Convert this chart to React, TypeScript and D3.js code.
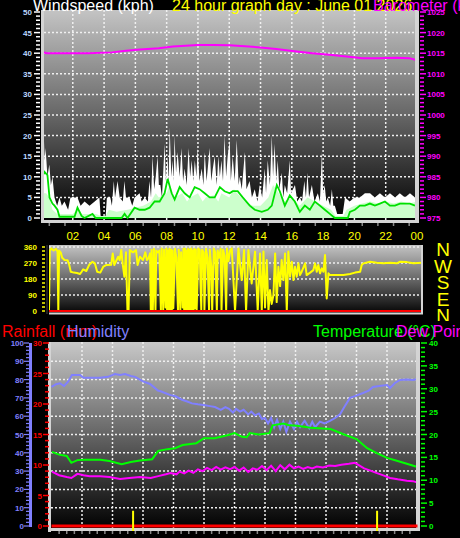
import React from 'react';
import * as d3 from 'd3';

type P = [number, number];

const hourLabels = ['02', '04', '06', '08', '10', '12', '14', '16', '18', '20', '22', '00'];
const windTicks = [0, 5, 10, 15, 20, 25, 30, 35, 40, 45, 50];
const baroTicks = [975, 980, 985, 990, 995, 1000, 1005, 1010, 1015, 1020, 1025];
const dirTicks = [0, 90, 180, 270, 360];
const compass = ['N', 'W', 'S', 'E', 'N'];
const humTicks = [0, 10, 20, 30, 40, 50, 60, 70, 80, 90, 100];
const rainTicks = [0, 5, 10, 15, 20, 25, 30];
const tempTicks = [0, 5, 10, 15, 20, 25, 30, 35, 40];

const gust: P[] = [
  [0, 22], [0.13, 22], [0.2, 14], [0.26, 17], [0.38, 10], [0.5, 13], [0.6, 8], [0.7, 10], [0.83, 5], [1.0, 3], [1.15, 5], [1.3, 3], [1.47, 4], [1.7, 2], [1.85, 5], [2.3, 5], [2.5, 3], [2.75, 4], [3.07, 3], [3.4, 4], [3.7, 5], [3.78, 0.5], [4.1, 0.5], [4.18, 5], [4.4, 5], [4.5, 3], [4.62, 9], [4.7, 5], [4.86, 9], [5.0, 5], [5.2, 4], [5.3, 9], [5.4, 5], [5.63, 5], [5.8, 3], [5.95, 5], [6.27, 6], [6.4, 4], [6.6, 5], [6.8, 4], [6.9, 9], [7.0, 5], [7.1, 15], [7.2, 7], [7.3, 10], [7.42, 15], [7.5, 8], [7.6, 8], [7.7, 5], [7.87, 18], [7.95, 9], [8.06, 15], [8.12, 8], [8.19, 22], [8.3, 10], [8.38, 14], [8.45, 9], [8.5, 20], [8.6, 11], [8.7, 16], [8.83, 10], [8.95, 17], [9.05, 9], [9.15, 12], [9.28, 8], [9.4, 17], [9.5, 10], [9.6, 14], [9.7, 9], [9.8, 14], [9.9, 10], [9.98, 17], [10.1, 9], [10.24, 12], [10.35, 8], [10.43, 16], [10.55, 9], [10.65, 13], [10.75, 17], [10.85, 9], [10.95, 12], [11.07, 15], [11.2, 8], [11.3, 15], [11.4, 10], [11.5, 14], [11.6, 9], [11.7, 20], [11.8, 10], [11.9, 15], [12.03, 19], [12.1, 9], [12.22, 15], [12.35, 9], [12.48, 19], [12.6, 8], [12.67, 10], [12.8, 7], [13.0, 16], [13.1, 7], [13.3, 9], [13.45, 5], [13.63, 7], [13.8, 4], [13.95, 8], [14.1, 5], [14.27, 12], [14.35, 6], [14.46, 14], [14.6, 8], [14.72, 20], [14.8, 10], [14.9, 18], [15.0, 9], [15.1, 14], [15.2, 7], [15.36, 11], [15.45, 5], [15.55, 8], [15.7, 6], [15.87, 14], [15.95, 6], [16.2, 8], [16.35, 4], [16.5, 5], [16.65, 4], [16.8, 9], [16.9, 5], [17.0, 11], [17.1, 5], [17.28, 8], [17.45, 4], [17.66, 6], [17.8, 4], [17.92, 16], [18.0, 6], [18.1, 8], [18.2, 4], [18.3, 5], [18.45, 3], [18.56, 7], [18.65, 3], [18.75, 3], [18.9, 1], [19.07, 1], [19.25, 1], [19.4, 5], [19.7, 4], [20.0, 5], [20.35, 5], [20.67, 6], [21.0, 6], [21.3, 5], [21.63, 6], [21.95, 5], [22.27, 6], [22.6, 5], [22.9, 6], [23.23, 5], [23.55, 6], [23.87, 5], [24, 5],
];

const windAvgFill: P[] = [
  [0, 6], [0.3, 6], [0.5, 5], [0.7, 2], [1.0, 1], [2.0, 1], [2.3, 2], [2.6, 1], [3.5, 1], [3.8, 0.5], [4.1, 0.5], [4.3, 2], [4.8, 1.5], [5.5, 2], [6.0, 2.5], [6.5, 3], [7.0, 4], [7.3, 6], [7.5, 5], [8.0, 6], [8.2, 8], [8.5, 5], [9.0, 6], [9.3, 4], [9.5, 5], [10.0, 6], [10.3, 4], [10.5, 5], [11.0, 5.5], [11.3, 4], [11.5, 6], [12.0, 5], [12.3, 7], [12.5, 6], [13.0, 4], [13.5, 3], [14.0, 3], [14.5, 5], [14.8, 8], [15.0, 7], [15.5, 4], [16.0, 5], [16.5, 3], [17.0, 5], [17.5, 4], [18.0, 3], [18.5, 2], [18.8, 0.5], [19.3, 0.5], [19.5, 2], [20.0, 3], [20.5, 3.5], [21, 4], [21.5, 3.5], [22, 4], [22.5, 3.5], [23, 4], [23.5, 3.5], [24, 4],
];

const windAvgLine: P[] = [
  [0.05, 10], [0.19, 11.2], [0.38, 10.4], [0.51, 5], [0.7, 3.5], [0.83, 3], [1.02, 2], [1.15, 0.3], [2.11, 0.3], [2.3, 2.5], [2.56, 0.5], [2.75, 0], [3.26, 1], [3.46, 0], [5.12, 0], [5.31, 1], [5.5, 0], [5.95, 2.5], [6.27, 2], [6.6, 2], [6.91, 2.5], [7.23, 4], [7.55, 4], [7.87, 6], [8.06, 9.5], [8.32, 6], [8.51, 4.5], [8.83, 7.5], [9.15, 6], [9.47, 5], [9.79, 7.5], [10.1, 7], [10.43, 6], [10.75, 5], [11.07, 5], [11.4, 7.5], [11.7, 6.5], [12.03, 6], [12.22, 6.5], [12.54, 6.5], [12.86, 5], [13.31, 3], [13.63, 2], [14.08, 1.5], [14.46, 2], [14.72, 3], [15.04, 8], [15.23, 6.5], [15.55, 3], [15.87, 5.5], [16.19, 4], [16.51, 1.5], [16.83, 3], [17.15, 2], [17.47, 4], [17.79, 3], [18.11, 2], [18.43, 1], [18.75, 0], [19.58, 0], [19.71, 1.5], [20.03, 2], [20.35, 3], [20.67, 3], [20.99, 3.5], [21.31, 3], [21.63, 3.5], [21.95, 4], [22.27, 3], [22.59, 3], [22.91, 3.5], [23.23, 3.5], [23.55, 3.5], [23.87, 3],
];

const baro: P[] = [
  [0, 1015.4], [0.3, 1015.0], [1, 1015.0], [3, 1015.0], [4.5, 1015.2], [5.4, 1015.6], [6.3, 1015.9], [7.5, 1016.2], [8.4, 1016.6], [10, 1017.0], [11, 1017.0], [12, 1016.9], [13, 1016.7], [14, 1016.4], [15, 1016.0], [16.3, 1015.4], [17.3, 1015.0], [18.4, 1014.6], [19.5, 1014.2], [20.5, 1013.8], [21.5, 1013.8], [22.7, 1013.9], [23.5, 1013.8], [24, 1013.3],
];

const windDir: P[] = [
  [0.0, 0], [0.05, 340], [0.15, 352], [0.3, 340], [0.45, 350], [0.55, 335], [0.6, 0], [0.65, 340], [0.75, 330], [0.85, 300], [1.0, 287], [1.2, 285], [1.3, 260], [1.4, 221], [1.6, 216], [1.8, 214], [2.0, 208], [2.1, 221], [2.2, 234], [2.4, 225], [2.6, 262], [2.8, 277], [2.95, 268], [3.1, 221], [3.3, 216], [3.5, 250], [3.7, 259], [4.0, 260], [4.1, 324], [4.2, 259], [4.45, 305], [4.55, 287], [4.65, 343], [4.75, 259], [4.85, 193], [4.95, 330], [5.05, 0], [5.12, 0], [5.2, 343], [5.4, 330], [5.6, 343], [5.7, 259], [5.85, 305], [6.05, 287], [6.2, 330], [6.3, 287], [6.4, 296], [6.5, 324],
  [6.55, 0], [6.6, 343], [6.68, 0], [6.75, 350], [6.85, 0], [6.9, 340], [7.0, 330], [7.1, 340], [7.2, 0], [7.25, 352], [7.35, 0], [7.4, 345], [7.5, 20], [7.55, 352], [7.6, 0], [7.65, 340], [7.7, 10], [7.75, 350], [7.8, 5], [7.85, 345], [7.9, 0], [7.95, 340], [8.0, 15], [8.1, 350], [8.2, 300], [8.3, 0], [8.35, 345], [8.45, 0], [8.5, 330], [8.6, 20], [8.65, 350], [8.7, 0], [8.75, 352], [8.8, 5], [8.85, 340], [8.9, 0], [8.95, 350], [9.0, 10], [9.05, 345], [9.1, 0], [9.15, 352], [9.2, 5], [9.25, 340], [9.3, 0], [9.35, 350], [9.4, 15], [9.45, 345], [9.5, 0], [9.6, 352], [9.7, 340], [9.8, 0], [9.85, 345], [9.95, 330], [10.0, 0], [10.1, 350], [10.2, 300], [10.3, 0], [10.35, 345], [10.45, 240], [10.5, 0], [10.6, 352], [10.7, 330], [10.8, 0], [10.85, 340], [10.95, 300], [11.05, 350], [11.1, 0], [11.2, 345], [11.3, 310], [11.4, 0], [11.45, 352], [11.55, 280], [11.65, 340],
  [11.76, 352], [11.97, 0], [12.19, 352], [12.4, 174], [12.55, 343], [12.68, 0], [12.83, 343], [13.04, 155], [13.26, 334], [13.43, 0], [13.58, 324], [13.69, 0], [13.8, 334], [13.9, 20], [14.01, 287], [14.12, 0], [14.22, 118], [14.33, 40], [14.44, 90], [14.55, 324], [14.65, 50], [14.76, 249], [14.87, 140], [14.97, 287], [15.08, 174], [15.19, 324], [15.3, 0], [15.4, 334], [15.51, 193], [15.62, 277], [15.73, 174], [15.83, 249], [15.94, 193], [16.05, 268], [16.15, 202], [16.26, 221], [16.48, 268], [16.58, 202], [16.8, 216], [17.01, 230], [17.12, 268], [17.23, 221], [17.33, 259], [17.44, 212], [17.55, 240], [17.66, 221], [17.76, 315], [17.87, 71], [17.98, 212], [18.08, 202], [18.94, 202], [19.37, 208], [19.69, 216], [20.02, 221], [20.12, 259], [20.23, 268], [20.66, 277], [21.09, 272], [21.52, 268], [21.95, 272], [22.38, 268], [22.59, 277], [23.02, 275], [23.45, 268], [23.98, 272],
];

const humidity: P[] = [
  [0, 76], [0.3, 77.5], [0.56, 78], [0.82, 76.5], [1.1, 79], [1.34, 82.5], [1.87, 82.5], [2.1, 81], [2.6, 81], [3.2, 81], [3.7, 81.5], [4.16, 83], [4.5, 82.5], [4.82, 83], [5.2, 82], [5.48, 81.5], [6.0, 79], [6.46, 77.6], [6.98, 74], [7.2, 73.5], [7.44, 72.7], [7.8, 71.5], [8.1, 71], [8.56, 69], [8.9, 68], [9.21, 67], [9.6, 66.5], [10.07, 66], [10.4, 65.5], [10.72, 65], [11.1, 63.5], [11.4, 65], [11.64, 64], [11.9, 62], [12.1, 64], [12.36, 62.5], [12.6, 63.5], [12.9, 61], [13.1, 62.5], [13.34, 60.5], [13.6, 61.5], [13.8, 58.5], [14.0, 59], [14.2, 56], [14.4, 59], [14.6, 54], [14.79, 58], [15.0, 53], [15.2, 57], [15.4, 51.5], [15.64, 57], [15.9, 53], [16.1, 57], [16.3, 54], [16.6, 57.5], [16.9, 53.5], [17.1, 57], [17.28, 54], [17.6, 57], [17.9, 56], [18.26, 57.4], [18.6, 59], [18.92, 61], [19.2, 65], [19.57, 70], [19.9, 71], [20.43, 72.7], [20.8, 74], [21.08, 76], [21.5, 76.5], [22.0, 77], [22.2, 75.4], [22.5, 78], [22.85, 79.8], [23.3, 80], [23.7, 79.8], [24, 80.3],
];

const temperature: P[] = [
  [0.03, 16.2], [0.5, 15.6], [1.0, 15.3], [1.3, 13.8], [1.7, 14.4], [2.2, 14.5], [3.2, 14.5], [3.8, 14.2], [4.6, 13.5], [5.2, 14.0], [5.8, 14.3], [6.6, 14.6], [7.0, 16.4], [7.6, 16.8], [8.1, 17.0], [8.6, 17.7], [9.5, 18.1], [10.0, 19.2], [10.7, 19.2], [11.6, 19.9], [12.0, 20.3], [12.5, 19.5], [12.8, 19.4], [13.0, 20.3], [13.6, 20.0], [14.3, 20.3], [14.5, 22.0], [15.2, 22.4], [15.6, 22.0], [16.1, 21.9], [17.0, 21.5], [18.3, 21.2], [19.1, 20.1], [20.0, 19.0], [20.7, 17.0], [21.3, 16.0], [22.0, 14.9], [22.7, 14.2], [23.3, 13.6], [24, 12.9],
];

const dewPoint: P[] = [
  [0.03, 11.9], [0.5, 11.1], [1.0, 10.7], [1.3, 10.5], [1.7, 11.4], [2.1, 11.1], [2.5, 10.9], [3.2, 10.9], [3.8, 10.7], [4.5, 10.3], [5.1, 10.5], [5.8, 10.7], [6.5, 10.5], [7.0, 10.9], [7.5, 11.3], [7.8, 11.6], [8.2, 11.3], [8.4, 11.9], [8.7, 11.5], [9.0, 12.1], [9.3, 11.6], [9.6, 12.4], [9.9, 12.0], [10.2, 12.7], [10.5, 12.2], [10.8, 12.9], [11.1, 12.3], [11.4, 12.8], [11.7, 12.4], [12.0, 12.9], [12.3, 12.1], [12.6, 12.8], [12.9, 11.8], [13.2, 12.6], [13.5, 12.3], [13.8, 13.1], [14.1, 12.2], [14.4, 13.2], [14.7, 12.0], [15.0, 13.3], [15.3, 12.4], [15.6, 13.4], [15.9, 12.6], [16.2, 13.0], [16.5, 12.5], [16.8, 12.9], [17.1, 12.6], [17.4, 13.0], [17.8, 12.8], [18.2, 13.2], [18.6, 13.1], [19.0, 13.4], [19.5, 13.6], [19.9, 13.8], [20.2, 13.2], [20.5, 12.6], [21.0, 12.0], [21.3, 11.6], [21.8, 11.0], [22.2, 10.5], [22.7, 10.2], [23.3, 9.9], [23.7, 9.8], [24, 9.5],
];

const rainfall: P[] = [[0, 0], [24, 0]];
const rainMarks: P[] = [[5.35, 2.5], [21.35, 2.5]];

const FONT = "'Liberation Sans', Arial, sans-serif";

function range(a: number, b: number, s: number) {
  const r: number[] = [];
  for (let v = a; v <= b + 1e-9; v += s) r.push(v);
  return r;
}

export default function App() {
  const hours = d3.range(2, 25, 2);

  const xTop = d3.scaleLinear().domain([0, 24]).range([41.5, 417]);
  const yWind = d3.scaleLinear().domain([0, 50]).range([218, 12]);
  const yBaro = d3.scaleLinear().domain([975, 1025]).range([218, 12]);

  const xDir = d3.scaleLinear().domain([0, 24]).range([49, 422]);
  const yDir = d3.scaleLinear().domain([0, 360]).range([311, 247]);

  const xBot = d3.scaleLinear().domain([0, 24]).range([51.5, 417.5]);
  const yHum = d3.scaleLinear().domain([0, 100]).range([526, 343]);
  const yRain = d3.scaleLinear().domain([0, 30]).range([526, 343]);
  const yTemp = d3.scaleLinear().domain([0, 40]).range([526, 343]);

  const areaTop = (data: P[]) =>
    d3.area<P>().x(d => xTop(d[0])).y0(yWind(0)).y1(d => yWind(d[1]))(data) || '';
  const lineOf = (data: P[], x: d3.ScaleLinear<number, number>, y: d3.ScaleLinear<number, number>) =>
    d3.line<P>().x(d => x(d[0])).y(d => y(d[1]))(data) || '';

  const grid = { stroke: '#f0f0f0', strokeWidth: 1.5, strokeDasharray: '2 2', opacity: 1 };

  return (
    <svg width={460} height={538} style={{ position: 'absolute', left: 0, top: 0, display: 'block' }} fontFamily={FONT}>
      <defs>
        <linearGradient id="gTop" x1="0" y1="0" x2="0" y2="1">
          <stop offset="0" stopColor="#c4c4c4" />
          <stop offset="0.5" stopColor="#666" />
          <stop offset="1" stopColor="#000" />
        </linearGradient>
        <linearGradient id="gDir" x1="0" y1="0" x2="0" y2="1">
          <stop offset="0" stopColor="#c4c4c4" />
          <stop offset="0.5" stopColor="#6a6a6a" />
          <stop offset="1" stopColor="#080808" />
        </linearGradient>
        <linearGradient id="gBot" x1="0" y1="0" x2="0" y2="1">
          <stop offset="0" stopColor="#c8c8c8" />
          <stop offset="0.5" stopColor="#646464" />
          <stop offset="1" stopColor="#000" />
        </linearGradient>
        <clipPath id="cTop"><rect x={41} y={10} width={378} height={212} /></clipPath>
        <clipPath id="cDir"><rect x={49} y={245} width={374} height={68} /></clipPath>
        <clipPath id="cBot"><rect x={51} y={342} width={368} height={190} /></clipPath>
        <clipPath id="cCompass"><rect x={425} y={235} width={35} height={86} /></clipPath>
      </defs>
      <rect x={0} y={0} width={460} height={538} fill="#000" />

      {/* ===== TOP PANEL ===== */}
      <rect x={44} y={10} width={371} height={211} fill="url(#gTop)" />
      {windTicks.filter(v => v > 0 && v < 50).map(v => (
        <line key={'hg' + v} x1={44} x2={415} y1={yWind(v)} y2={yWind(v)} {...grid} />
      ))}
      {hours.filter(h => h < 24).map(h => (
        <line key={'vg' + h} x1={xTop(h)} x2={xTop(h)} y1={10} y2={220} {...grid} />
      ))}
      <g clipPath="url(#cTop)">
        <path d={areaTop(gust)} fill="#ffffff" />
        <path d={areaTop(windAvgFill)} fill="#ccffcc" />
        <path d={lineOf(windAvgLine, xTop, yWind)} fill="none" stroke="#00e000" strokeWidth={1.8} />
        <path d={lineOf(baro, xTop, yBaro)} fill="none" stroke="#ff00ff" strokeWidth={2} />
      </g>
      <rect x={41} y={10} width={3} height={213} fill="#d4d4d4" />
      <rect x={41} y={220} width={378} height={3} fill="#d4d4d4" />
      <rect x={415} y={10} width={4} height={213} fill="#d4d4d4" />
      {range(0, 50, 1).map(v => (
        <line key={'wt' + v} x1={v % 5 === 0 ? 34 : 36} x2={40} y1={yWind(v)} y2={yWind(v)} stroke="#ffffff" strokeWidth={1.5} />
      ))}
      {windTicks.map(v => (
        <text key={'wl' + v} x={32} y={yWind(v) + 3} fontSize={8} fontWeight="bold" fill="#bcd8ff" textAnchor="end">{v}</text>
      ))}
      {range(975, 1025, 1).map(v => (
        <line key={'bt' + v} x1={420} x2={v % 5 === 0 ? 426 : 424} y1={yBaro(v)} y2={yBaro(v)} stroke="#ff00ff" strokeWidth={1.5} />
      ))}
      {baroTicks.map(v => (
        <text key={'bl' + v} x={427} y={yBaro(v) + 3} fontSize={8} fontWeight="bold" fill="#ff00ff">{v}</text>
      ))}
      {range(0.5, 23.5, 1).map(h => (
        <line key={'ht' + h} x1={xTop(h)} x2={xTop(h)} y1={223} y2={226} stroke="#888" strokeWidth={1.5} />
      ))}
      {hours.map((h, i) => (
        <text key={'hl' + h} x={xTop(h)} y={240} fontSize={11.5} fill="#ffff00" textAnchor="middle">{hourLabels[i]}</text>
      ))}
      <text x={33} y={11} fontSize={16} fill="#ffffff">Windspeed (kph)</text>
      <text x={172} y={11} fontSize={16} fill="#ffff00">24 hour graph day : June 01 2026</text>
      <text x={373} y={11} fontSize={16} fill="#ff00ff">Barometer (kPa)</text>

      {/* ===== DIRECTION PANEL ===== */}
      <rect x={49} y={245} width={373} height={67} fill="url(#gDir)" />
      {dirTicks.filter(v => v > 0).map(v => (
        <line key={'dg' + v} x1={49} x2={421} y1={yDir(v)} y2={yDir(v)} {...grid} />
      ))}
      <g clipPath="url(#cDir)">
        <path d={lineOf(windDir, xDir, yDir)} fill="none" stroke="#ffff00" strokeWidth={2} strokeLinejoin="round" />
      </g>
      <line x1={49} x2={422} y1={311} y2={311} stroke="#ff0000" strokeWidth={2} />
      <rect x={49} y={312.5} width={374} height={2} fill="#d4d4d4" />
      <rect x={421} y={245} width={2} height={69} fill="#d4d4d4" />
      <rect x={46} y={245} width={2} height={69} fill="#222" />
      {range(0, 360, 22.5).map(v => (
        <line key={'dt' + v} x1={42} x2={45} y1={yDir(v)} y2={yDir(v)} stroke="#ffff00" strokeWidth={1.5} />
      ))}
      {dirTicks.map(v => (
        <text key={'dl' + v} x={37} y={yDir(v) + 3} fontSize={8} fontWeight="bold" fill="#ffff00" textAnchor="end">{v}</text>
      ))}
      <g clipPath="url(#cCompass)">
        {compass.map((c, i) => (
          <text key={'cp' + i} x={443} y={256 + i * 16.6} fontSize={19} fill="#ffff00" textAnchor="middle">{c}</text>
        ))}
      </g>

      {/* ===== BOTTOM PANEL ===== */}
      <rect x={51} y={342} width={366} height={187} fill="url(#gBot)" />
      {humTicks.filter(v => v > 0 && v < 100).map(v => (
        <line key={'bg' + v} x1={51} x2={416} y1={yHum(v)} y2={yHum(v)} {...grid} />
      ))}
      {hours.filter(h => h < 24).map(h => (
        <line key={'bv' + h} x1={xBot(h)} x2={xBot(h)} y1={342} y2={528} {...grid} />
      ))}
      <g clipPath="url(#cBot)">
        <path d={lineOf(humidity, xBot, yHum)} fill="none" stroke="#8080ff" strokeWidth={2} />
        <path d={lineOf(temperature, xBot, yTemp)} fill="none" stroke="#00ff00" strokeWidth={2} />
        <path d={lineOf(dewPoint, xBot, yTemp)} fill="none" stroke="#ff00ff" strokeWidth={2} />
      </g>
      <rect x={48} y={342} width={3} height={190} fill="#d4d4d4" />
      <rect x={48} y={528} width={372} height={3} fill="#d4d4d4" />
      <rect x={416} y={342} width={4} height={189} fill="#d4d4d4" />
      <path d={lineOf(rainfall, xBot, yRain)} fill="none" stroke="#ff0000" strokeWidth={3} />
      {rainMarks.map((d, i) => (
        <line key={'rm' + i} x1={xBot(d[0])} x2={xBot(d[0])} y1={yRain(d[1])} y2={531} stroke="#ffff00" strokeWidth={2} />
      ))}
      {range(0.5, 23.5, 0.5).map(h => (
        <line key={'bt2' + h} x1={xBot(h)} x2={xBot(h)} y1={531} y2={534} stroke="#888" strokeWidth={1.5} />
      ))}
      <rect x={29} y={343} width={3} height={184} fill="#8080ff" />
      {range(0, 100, 2).map(v => (
        <line key={'hut' + v} x1={v % 10 === 0 ? 24 : 26} x2={29} y1={yHum(v)} y2={yHum(v)} stroke="#8080ff" strokeWidth={1.2} />
      ))}
      {humTicks.map(v => (
        <text key={'hul' + v} x={24} y={yHum(v) + 3} fontSize={8} fontWeight="bold" fill="#8080ff" textAnchor="end">{v}</text>
      ))}
      {range(0, 30, 1).map(v => (
        <line key={'rt' + v} x1={v % 5 === 0 ? 43 : 45} x2={49} y1={yRain(v)} y2={yRain(v)} stroke="#ff0000" strokeWidth={1.5} />
      ))}
      {rainTicks.map(v => (
        <text key={'rl' + v} x={42} y={yRain(v) + 3} fontSize={8} fontWeight="bold" fill="#ff0000" textAnchor="end">{v}</text>
      ))}
      {range(0, 40, 1).map(v => (
        <line key={'tt' + v} x1={421} x2={v % 5 === 0 ? 427 : 425} y1={yTemp(v)} y2={yTemp(v)} stroke="#00ff00" strokeWidth={1.5} />
      ))}
      {tempTicks.map(v => (
        <text key={'tl' + v} x={429} y={yTemp(v) + 3} fontSize={8} fontWeight="bold" fill="#00ff00">{v}</text>
      ))}
      <text x={2} y={337} fontSize={16} fill="#ff0000">Rainfall (mm)</text>
      <text x={67} y={337} fontSize={16} fill="#8080ff">Humidity</text>
      <text x={313} y={337} fontSize={16} fill="#00ff00">Temperature (°C)</text>
      <text x={396} y={337} fontSize={16} fill="#ff00ff">Dew Point</text>
    </svg>
  );
}
